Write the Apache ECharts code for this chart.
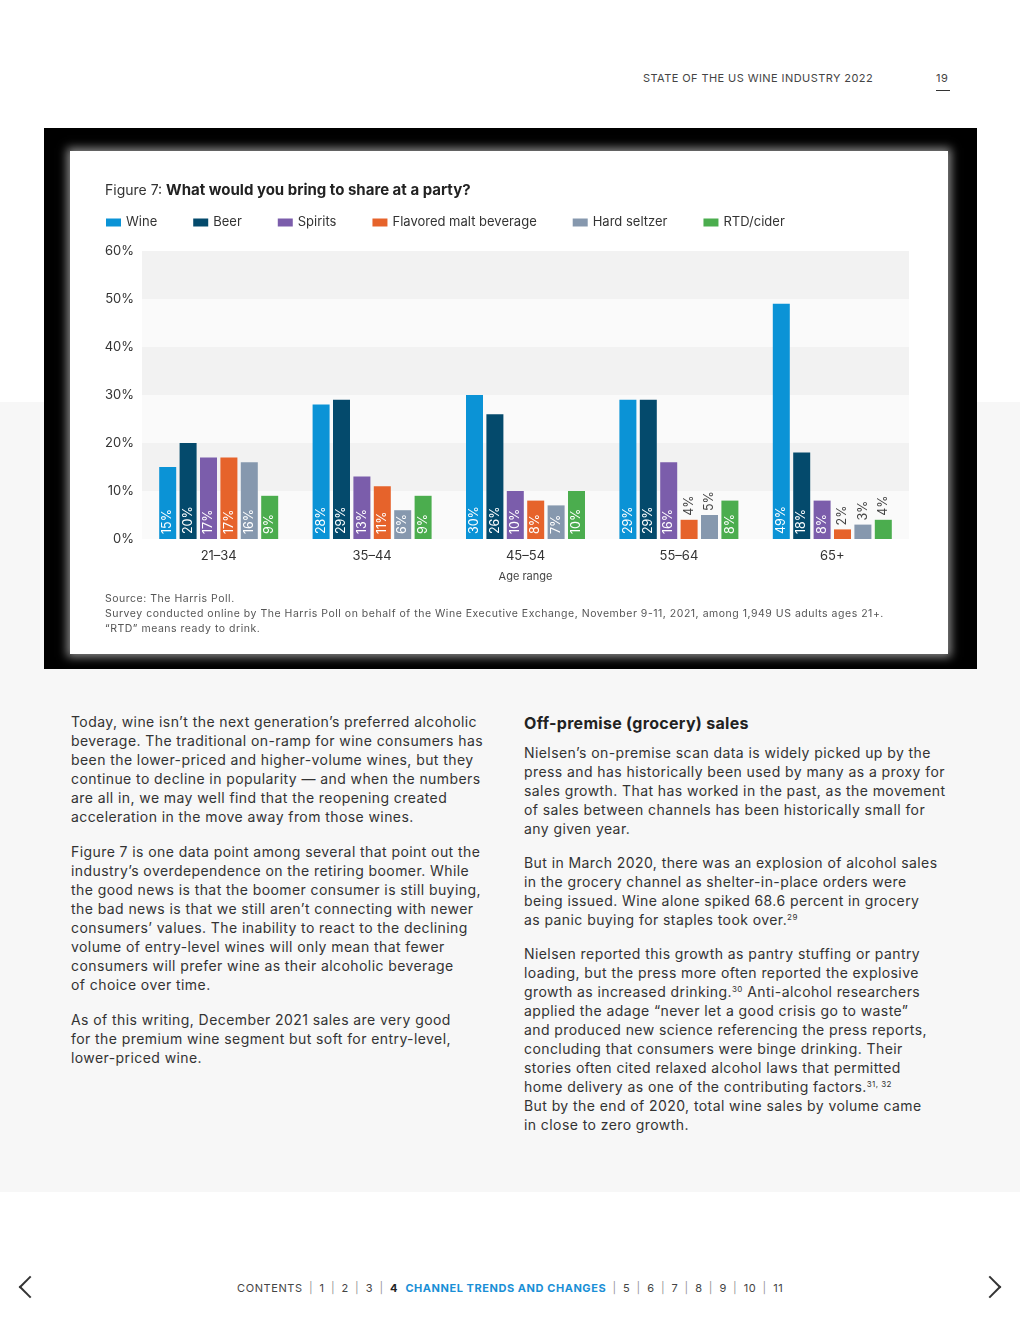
<!DOCTYPE html>
<html>
<head>
<meta charset="utf-8">
<script src="https://cdn.jsdelivr.net/npm/echarts@6/dist/echarts.min.js"></script>
<style>
  html, body { margin:0; padding:0; width:1020px; height:1320px; background:#fff; font-family: Inter, "Noto Sans", sans-serif; color:#333; }
  .page { position:relative; width:1020px; height:1320px; overflow:hidden; }
  .band { position:absolute; left:0; top:402px; width:1020px; height:790px; background:#f7f7f7; }
  .hdr { position:absolute; left:643px; top:71px; font-size:11px; letter-spacing:0.42px; color:#444; }
  .pnum { position:absolute; left:936px; top:71px; font-size:11px; color:#444; letter-spacing:0.5px; }
  .pline { position:absolute; left:936px; top:90px; width:14px; height:1px; background:#333; }
  .black { position:absolute; left:44px; top:128px; width:933px; height:541px; background:#000; }
  .card { position:absolute; left:70px; top:151px; width:878px; height:503px; background:#fff; box-shadow:0 0 9px 3px rgba(255,255,255,0.55); }
  #chart { position:absolute; left:0; top:0; width:878px; height:503px; }
  .src { position:absolute; left:35px; top:440px; font-size:10.5px; line-height:15px; color:#555; letter-spacing:0.52px; white-space:nowrap; }
  .col { position:absolute; font-size:14px; line-height:19px; color:#333; letter-spacing:0.42px; white-space:nowrap; }
  .col p { margin:0 0 16px 0; }
  .col.r p { margin:0 0 15px 0; }
  .col h3 { margin:0 0 10px 0; font-size:16px; line-height:20px; font-weight:700; color:#222; letter-spacing:0.3px; }
  sup { font-size:8px; line-height:0; vertical-align:5px; }
  .foot { position:absolute; left:237px; top:1281px; font-size:11px; letter-spacing:0.6px; color:#444; white-space:nowrap; }
  .foot .sep { color:#999; margin:0 6.3px; }
  .foot b.n { color:#222; }
  .foot b.c { color:#1a8fd6; letter-spacing:0.55px; }
  .arrow { position:absolute; top:1279px; width:14px; height:14px; border-left:2.5px solid #333; border-bottom:2.5px solid #333; }
</style>
</head>
<body>
<div class="page">
  <div class="band"></div>
  <div class="hdr">STATE OF THE US WINE INDUSTRY 2022</div>
  <div class="pnum">19</div>
  <div class="pline"></div>

  <div class="black"></div>
  <div class="card">
    <div id="chart"></div>
    <div class="src">Source: The Harris Poll.<br>Survey conducted online by The Harris Poll on behalf of the Wine Executive Exchange, November 9-11, 2021, among 1,949 US adults ages 21+.<br>“RTD” means ready to drink.</div>
  </div>

  <div class="col" style="left:71px; top:712px; width:430px;">
    <p>Today, wine isn’t the next generation’s preferred alcoholic<br>beverage. The traditional on-ramp for wine consumers has<br>been the lower-priced and higher-volume wines, but they<br>continue to decline in popularity — and when the numbers<br>are all in, we may well find that the reopening created<br>acceleration in the move away from those wines.</p>
    <p>Figure 7 is one data point among several that point out the<br>industry’s overdependence on the retiring boomer. While<br>the good news is that the boomer consumer is still buying,<br>the bad news is that we still aren’t connecting with newer<br>consumers’ values. The inability to react to the declining<br>volume of entry-level wines will only mean that fewer<br>consumers will prefer wine as their alcoholic beverage<br>of choice over time.</p>
    <p>As of this writing, December 2021 sales are very good<br>for the premium wine segment but soft for entry-level,<br>lower-priced wine.</p>
  </div>

  <div class="col r" style="left:524px; top:713px; width:440px;">
    <h3>Off-premise (grocery) sales</h3>
    <p>Nielsen’s on-premise scan data is widely picked up by the<br>press and has historically been used by many as a proxy for<br>sales growth. That has worked in the past, as the movement<br>of sales between channels has been historically small for<br>any given year.</p>
    <p>But in March 2020, there was an explosion of alcohol sales<br>in the grocery channel as shelter-in-place orders were<br>being issued. Wine alone spiked 68.6 percent in grocery<br>as panic buying for staples took over.<sup>29</sup></p>
    <p>Nielsen reported this growth as pantry stuffing or pantry<br>loading, but the press more often reported the explosive<br>growth as increased drinking.<sup>30</sup> Anti-alcohol researchers<br>applied the adage “never let a good crisis go to waste”<br>and produced new science referencing the press reports,<br>concluding that consumers were binge drinking. Their<br>stories often cited relaxed alcohol laws that permitted<br>home delivery as one of the contributing factors.<sup>31, 32</sup><br>But by the end of 2020, total wine sales by volume came<br>in close to zero growth.</p>
  </div>

  <div class="foot">CONTENTS<span class="sep">|</span>1<span class="sep">|</span>2<span class="sep">|</span>3<span class="sep">|</span><b class="n">4</b>&nbsp;&nbsp;<b class="c">CHANNEL TRENDS AND CHANGES</b><span class="sep">|</span>5<span class="sep">|</span>6<span class="sep">|</span>7<span class="sep">|</span>8<span class="sep">|</span>9<span class="sep">|</span>10<span class="sep">|</span>11</div>
  <div class="arrow" style="left:22px; transform:rotate(45deg);"></div>
  <div class="arrow" style="left:982px; transform:rotate(-135deg);"></div>
</div>

<script>
const categories = ['21–34', '35–44', '45–54', '55–64', '65+'];
const seriesNames = ['Wine', 'Beer', 'Spirits', 'Flavored malt beverage', 'Hard seltzer', 'RTD/cider'];
const wine     = [15, 28, 30, 29, 49];
const beer     = [20, 29, 26, 29, 18];
const spirits  = [17, 13, 10, 16, 8];
const malt     = [17, 11, 8, 4, 2];
const seltzer  = [16, 6, 7, 5, 3];
const rtd      = [9, 9, 10, 8, 4];
const yTicks   = [0, 10, 20, 30, 40, 50, 60];
const colors   = ['#0b93d6', '#044a6c', '#7b5dab', '#e6632b', '#8698ae', '#4bad4e'];
const allValues = [wine, beer, spirits, malt, seltzer, rtd];

const chart = echarts.init(document.getElementById('chart'), null, { renderer: 'canvas' });
const font = 'Inter, "Noto Sans", sans-serif';

function mkData(vals) {
  return vals.map(v => {
    if (v <= 5) {
      return { value: v, label: { position: 'top', color: '#444', distance: 4 } };
    }
    return { value: v };
  });
}

const series = allValues.map((vals, i) => ({
  name: seriesNames[i],
  type: 'bar',
  data: mkData(vals),
  barWidth: 17,
  barGap: '20%',
  itemStyle: { color: colors[i] },
  label: {
    show: true,
    position: 'insideBottom',
    rotate: 90,
    align: 'left',
    verticalAlign: 'middle',
    distance: 5,
    color: '#fff',
    fontSize: 12.5,
    fontFamily: font,
    formatter: '{c}%'
  }
}));

chart.setOption({
  animation: false,
  textStyle: { fontFamily: font },
  title: {
    text: '{n|Figure 7: }{b|What would you bring to share at a party?}',
    left: 35,
    top: 32,
    padding: 0,
    textStyle: {
      fontWeight: 'normal',
      rich: {
        n: { fontSize: 14, color: '#333', fontWeight: 'normal', fontFamily: font },
        b: { fontSize: 15, fontWeight: 'bold', color: '#222', fontFamily: font }
      }
    }
  },
  legend: {
    left: 36,
    top: 65,
    padding: 0,
    icon: 'rect',
    itemWidth: 15,
    itemHeight: 8,
    itemGap: 36,
    textStyle: { fontSize: 13, color: '#333', fontFamily: font },
    data: seriesNames
  },
  color: colors,
  grid: { left: 72, right: 39, top: 100, bottom: 115, containLabel: false },
  xAxis: {
    type: 'category',
    data: categories,
    name: 'Age range',
    nameLocation: 'middle',
    nameGap: 32,
    nameTextStyle: { fontSize: 11, color: '#444', fontFamily: font },
    axisLine: { show: false },
    axisTick: { show: false },
    axisLabel: { fontSize: 13, color: '#333', margin: 11, fontFamily: font }
  },
  yAxis: {
    type: 'value',
    min: yTicks[0],
    max: yTicks[yTicks.length - 1],
    interval: 10,
    axisLine: { show: false },
    axisTick: { show: false },
    splitLine: { show: false },
    splitArea: { show: true, areaStyle: { color: ['#fafafa', '#f2f2f2'] } },
    axisLabel: { fontSize: 13, color: '#333', margin: 8, formatter: '{value}%', fontFamily: font }
  },
  series: series
});
</script>
</body>
</html>
